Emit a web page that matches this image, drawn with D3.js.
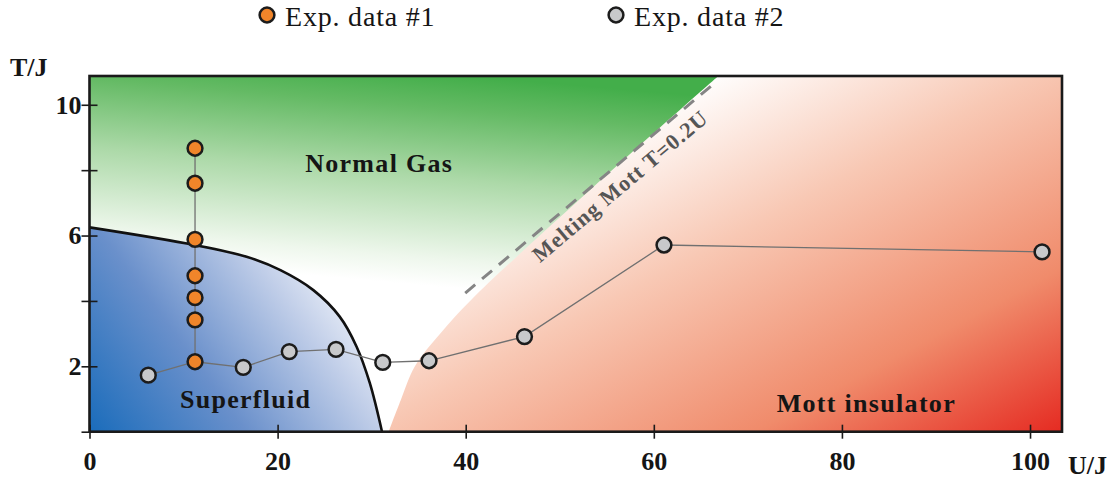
<!DOCTYPE html>
<html><head><meta charset="utf-8">
<script src="https://cdn.jsdelivr.net/npm/d3@7"></script>
<style>body{margin:0;background:#fff} svg{display:block}</style>
</head><body><svg id="c" width="1111" height="486"></svg>
<script>
// ---- data ----
const xTicks = [0, 20, 40, 60, 80, 100];
const yTicks = [0, 2, 4, 6, 8, 10];
const yLabelled = [2, 6, 10];
const exp1U = [11.22, 11.22, 11.22, 11.22, 11.22, 11.22, 11.22];
const exp1T = [8.67, 7.60, 5.88, 4.77, 4.10, 3.42, 2.14];
const exp2U = [6.25, 16.35, 21.24, 26.21, 31.18, 36.1, 46.25, 61.08, 101.28];
const exp2T = [1.73, 1.97, 2.45, 2.52, 2.12, 2.17, 2.91, 5.71, 5.50];
const sfU = [0, 11.2, 16.7, 20.3, 23.8, 26.6, 28.4, 29.8, 31.1];
const sfT = [6.25, 5.71, 5.35, 4.94, 4.33, 3.52, 2.60, 1.49, 0];
const mottU = [31.81, 33.1, 34.6, 37.3, 40.57, 53.22, 66.86];
const mottT = [0, 0.97, 2.0, 3.0, 4.03, 7.39, 10.88];
const meltU = [39.95, 66.2];
const meltT = [4.24, 10.6];
const legendLabels = ["Exp. data #1", "Exp. data #2"];
const regionNames = ["Normal Gas", "Superfluid", "Mott insulator"];
const regionU = [30.8, 16.6, 82.6];
const regionT = [7.95, 0.72, 0.6];
const meltLabel = "Melting Mott T=0.2U";

// ---- layout ----
const svg = d3.select("#c");
const xMax = 103.4, yMax = 10.88;
const x = d3.scaleLinear().domain([0, xMax]).range([89.5, 1062]);
const y = d3.scaleLinear().domain([0, yMax]).range([431.7, 76]);
const serif = "'Liberation Serif','Times New Roman',serif";

const defs = svg.append("defs");
defs.append("clipPath").attr("id", "plotClip").append("rect")
  .attr("x", x(0)).attr("y", y(yMax)).attr("width", x(xMax) - x(0)).attr("height", y(0) - y(yMax));

function grad(id, x1, y1, x2, y2, stops) {
  const g = defs.append("linearGradient").attr("id", id).attr("gradientUnits", "userSpaceOnUse")
    .attr("x1", x1).attr("y1", y1).attr("x2", x2).attr("y2", y2);
  stops.forEach(s => g.append("stop").attr("offset", s[0]).attr("stop-color", s[1]));
}
grad("gGreen", 400, 70, 380, 300, [[0, "#43ae4a"], [0.15, "#64ba64"], [0.45, "#acd9a8"], [0.8, "#eef7ec"], [0.92, "#ffffff"]]);
grad("gBlue", 90, 432, 345, 245, [[0, "#1a6cbb"], [0.4, "#6a90cb"], [0.75, "#c2cfe9"], [1, "#ffffff"]]);
grad("gRed", 700, 80, 925, 504, [[0, "#ffffff"], [0.32, "#f8c8b4"], [0.7, "#f08b6b"], [1, "#e52b22"]]);

const plot = svg.append("g").attr("clip-path", "url(#plotClip)");
plot.append("rect").attr("x", x(0)).attr("y", y(yMax)).attr("width", x(xMax) - x(0)).attr("height", y(0) - y(yMax))
  .attr("fill", "url(#gGreen)");

const curve = d3.line().x(d => x(d[0])).y(d => y(d[1])).curve(d3.curveCatmullRom.alpha(0.5));
const sfPts = sfU.map((u, i) => [u, sfT[i]]);
const mottPts = mottU.map((u, i) => [u, mottT[i]]);

plot.append("path").attr("d", curve(sfPts) + `L${x(0)},${y(0)}Z`).attr("fill", "url(#gBlue)");
plot.append("path").attr("d", curve(mottPts) + `L${x(xMax)},${y(yMax)}L${x(xMax)},${y(0)}Z`).attr("fill", "url(#gRed)");
plot.append("path").attr("d", curve(sfPts)).attr("fill", "none").attr("stroke", "#111").attr("stroke-width", 2.6);

// melting line
plot.append("line").attr("x1", x(meltU[0])).attr("y1", y(meltT[0])).attr("x2", x(meltU[1])).attr("y2", y(meltT[1]))
  .attr("stroke", "#858585").attr("stroke-width", 3).attr("stroke-dasharray", "13,9");
{
  const ang = Math.atan2(y(meltT[1]) - y(meltT[0]), x(meltU[1]) - x(meltU[0])) * 180 / Math.PI;
  svg.append("text").attr("transform", `translate(620,186) rotate(${ang})`)
    .attr("text-anchor", "middle").attr("dominant-baseline", "central")
    .attr("font-family", serif).attr("font-size", 22).attr("letter-spacing", 1.1)
    .attr("fill", "#555").attr("font-weight", "bold").text(meltLabel);
}

// region labels
regionNames.forEach((t, i) => {
  svg.append("text").attr("x", x(regionU[i])).attr("y", y(regionT[i])).attr("text-anchor", "middle")
    .attr("font-family", serif).attr("font-weight", "bold").attr("font-size", 26)
    .attr("letter-spacing", 1.3).attr("fill", "#151515").text(t);
});

// lines connecting data
const ln = d3.line().x(d => x(d[0])).y(d => y(d[1]));
const e1 = exp1U.map((u, i) => [u, exp1T[i]]);
const e2 = exp2U.map((u, i) => [u, exp2T[i]]);
const lowest1 = e1.reduce((a, b) => (b[1] < a[1] ? b : a));
const e2line = e2.concat([lowest1]).sort((a, b) => a[0] - b[0]);
svg.append("path").attr("d", ln(e1)).attr("fill", "none").attr("stroke", "#707070").attr("stroke-width", 1.3);
svg.append("path").attr("d", ln(e2line)).attr("fill", "none").attr("stroke", "#707070").attr("stroke-width", 1.3);

// frame
svg.append("rect").attr("x", x(0)).attr("y", y(yMax)).attr("width", x(xMax) - x(0)).attr("height", y(0) - y(yMax))
  .attr("fill", "none").attr("stroke", "#1a1a1a").attr("stroke-width", 2.6);

// axes
const xa = svg.append("g").attr("transform", `translate(0,${y(0)})`)
  .call(d3.axisBottom(x).tickValues(xTicks).tickSize(7).tickFormat(d3.format("d")));
xa.select(".domain").remove();
xa.selectAll(".tick line").attr("y1", -7).attr("y2", 7).attr("stroke", "#1a1a1a").attr("stroke-width", 1.6);
xa.selectAll(".tick text").attr("y", 38).attr("dy", 0).attr("font-family", serif).attr("font-weight", "bold")
  .attr("font-size", 26).attr("fill", "#151515");

const ya = svg.append("g").attr("transform", `translate(${x(0)},0)`)
  .call(d3.axisLeft(y).tickValues(yTicks).tickSize(8).tickFormat(d => yLabelled.includes(d) ? d : ""));
ya.select(".domain").remove();
ya.selectAll(".tick line").attr("x1", -8).attr("x2", 8).attr("stroke", "#1a1a1a").attr("stroke-width", 1.6);
ya.selectAll(".tick text").attr("x", -8).attr("font-family", serif).attr("font-weight", "bold")
  .attr("font-size", 26).attr("fill", "#151515");

svg.append("text").attr("x", 10).attr("y", 76).attr("font-family", serif).attr("font-weight", "bold")
  .attr("font-size", 26).attr("fill", "#151515").text("T/J");
svg.append("text").attr("x", 1068).attr("y", 474).attr("font-family", serif).attr("font-weight", "bold")
  .attr("font-size", 26).attr("fill", "#151515").text("U/J");

// points
const fills = ["#f0852a", "#c8c9cb"];
[e1, e2].forEach((pts, k) => {
  svg.append("g").selectAll("circle").data(pts).join("circle")
    .attr("cx", d => x(d[0])).attr("cy", d => y(d[1])).attr("r", 7.4)
    .attr("fill", fills[k]).attr("stroke", "#1c1c1c").attr("stroke-width", 2.5);
});

// legend
const legX = [267, 616];
legendLabels.forEach((t, i) => {
  svg.append("circle").attr("cx", legX[i]).attr("cy", 15).attr("r", 7.4)
    .attr("fill", fills[i]).attr("stroke", "#1c1c1c").attr("stroke-width", 2.5);
  svg.append("text").attr("x", legX[i] + 18).attr("y", 26).attr("font-family", serif)
    .attr("font-size", 28).attr("letter-spacing", 0.8).attr("fill", "#151515").text(t);
});
</script></body></html>
